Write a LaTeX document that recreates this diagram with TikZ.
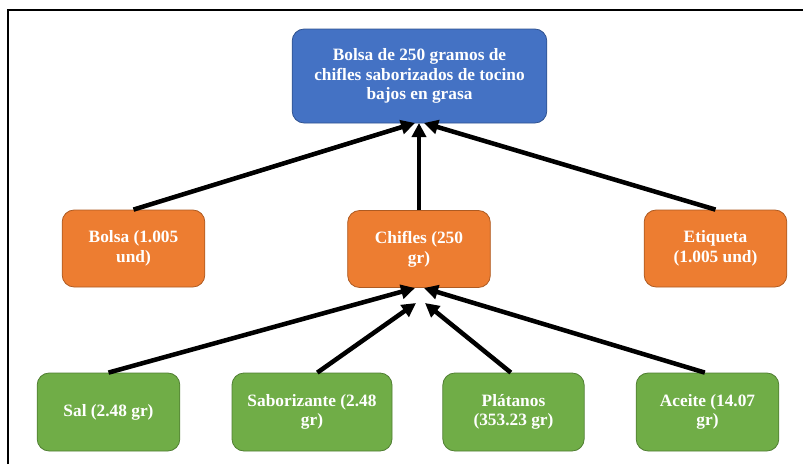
\documentclass[tikz,border=0pt]{standalone}
\usepackage{fontspec}
\setmainfont{Liberation Serif}
\usetikzlibrary{arrows.meta}
\definecolor{bluebox}{HTML}{4472C4}
\definecolor{blueline}{HTML}{2F528F}
\definecolor{orangebox}{HTML}{ED7D31}
\definecolor{orangeline}{HTML}{AE5A21}
\definecolor{greenbox}{HTML}{70AD47}
\definecolor{greenline}{HTML}{507E32}
\tikzset{
  boxbase/.style={rounded corners=9pt, line width=0.6pt, text=white, align=center,
    font=\fontsize{13}{14.8}\selectfont\bfseries, inner sep=0pt},
  topbox/.style={boxbase, fill=bluebox, draw=blueline, minimum width=191pt, minimum height=70.5pt},
  midbox/.style={boxbase, fill=orangebox, draw=orangeline, minimum width=107pt, minimum height=57.75pt},
  lowbox/.style={boxbase, fill=greenbox, draw=greenline, minimum width=107pt, minimum height=58.5pt},
  arr/.style={line width=3.4pt, -{Triangle[length=10.5pt,width=10.5pt]}},
}
\begin{document}
\begin{tikzpicture}[x=0.75pt,y=-0.75pt]
\useasboundingbox (0,0) rectangle (803,464);
\draw[line width=1.6pt] (8,464) -- (8,10) -- (803,10);

\node[topbox] (top) at (419.5,76) {Bolsa de 250 gramos de\\chifles saborizados de tocino\\bajos en grasa};

\node[midbox] (bolsa) at (133.5,248.5) {Bolsa (1.005\\und)};
\node[midbox] (chifles) at (419,249) {Chifles (250\\gr)};
\node[midbox] (etiqueta) at (715.5,248.5) {Etiqueta\\(1.005 und)};

\node[lowbox] (sal) at (108.5,412) {Sal (2.48 gr)};
\node[lowbox, minimum width=120pt] (sabor) at (312,412) {Saborizante (2.48\\gr)};
\node[lowbox, minimum width=106pt] (platanos) at (513.5,412) {Plátanos\\(353.23 gr)};
\node[lowbox] (aceite) at (707.5,412) {Aceite (14.07\\gr)};

\coordinate (t1) at (415,123);
\coordinate (t2) at (419,123);
\coordinate (t3) at (424,123);
\coordinate (c1) at (415,288);
\coordinate (c4) at (424,288);
\coordinate (c2) at (416,303);
\coordinate (c3) at (425,303);

\draw[arr] (bolsa.north) -- (t1);
\draw[arr] (chifles.north) -- (t2);
\draw[arr] (etiqueta.north) -- (t3);

\draw[arr] (sal.north) -- (c1);
\draw[arr] ([xshift=4pt]sabor.north) -- (c2);
\draw[arr] ([xshift=-2pt]platanos.north) -- (c3);
\draw[arr] ([xshift=-2pt]aceite.north) -- (c4);
\end{tikzpicture}
\end{document}
